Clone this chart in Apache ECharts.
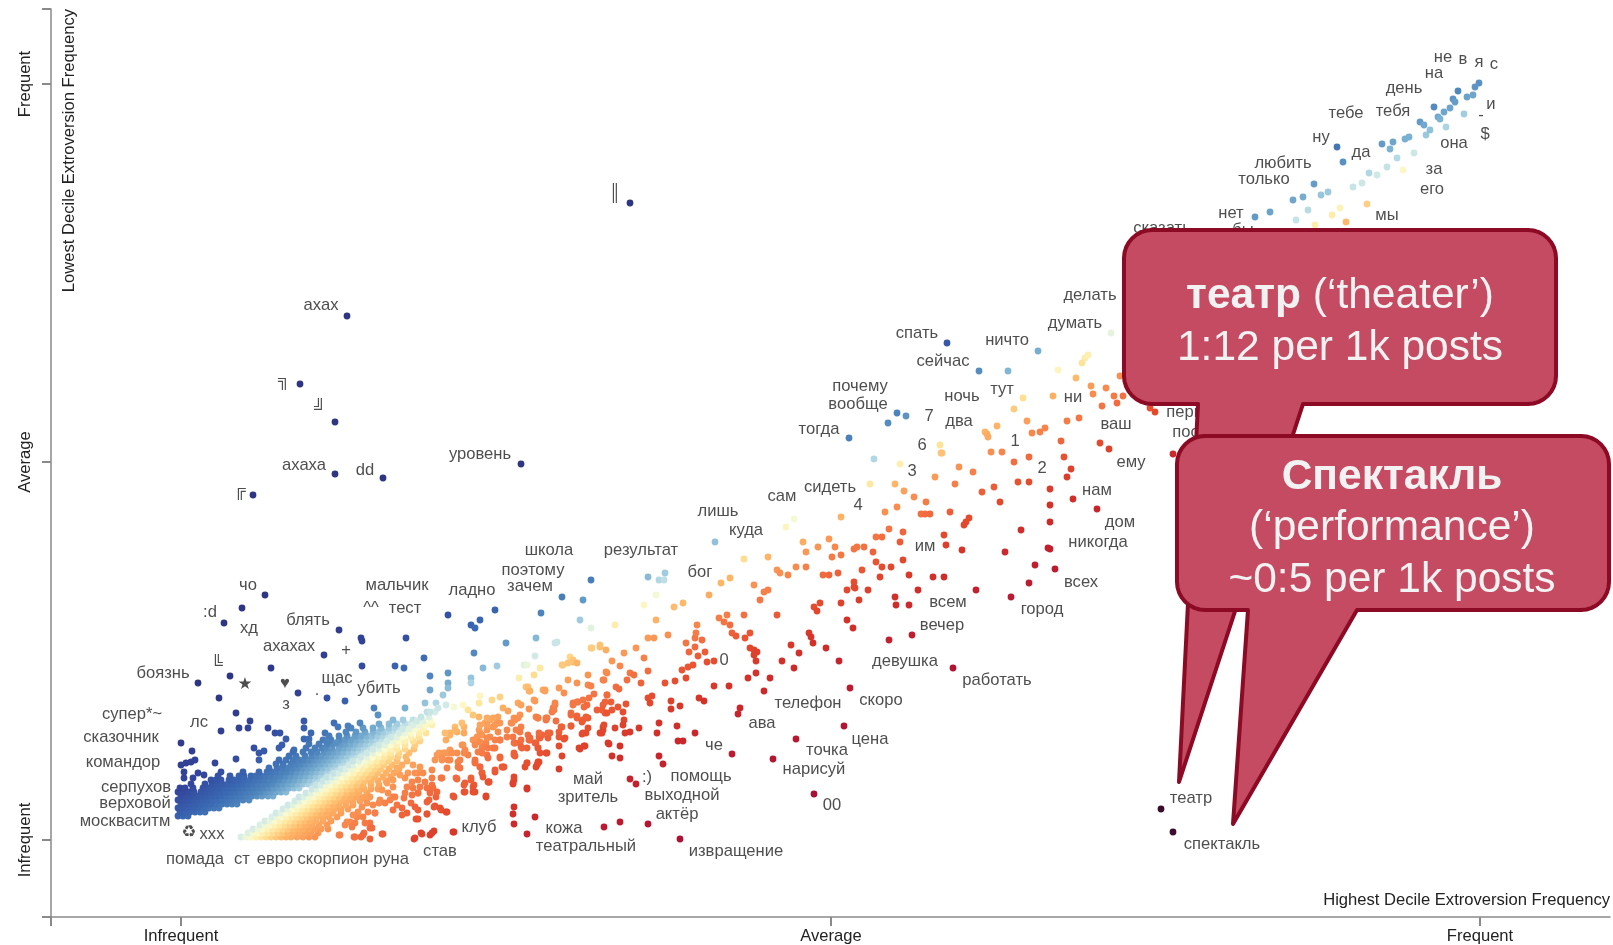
<!DOCTYPE html>
<html>
<head>
<meta charset="utf-8">
<script src="https://cdn.jsdelivr.net/npm/echarts@6/dist/echarts.min.js"></script>
<style>html,body{margin:0;padding:0;background:#fff}#c{width:1613px;height:945px}</style>
</head>
<body>
<div id="c"></div>
<script>
// Axis values are word-frequency ranks: 0 = Infrequent, mid = Average, top = Frequent.
const xTickValues = [0, 650, 1299];
const yTickValues = [0, 378, 756];
const tickLabels = ['Infrequent', 'Average', 'Frequent'];
const xAxisTitle = 'Highest Decile Extroversion Frequency';
const yAxisTitle = 'Lowest Decile Extroversion Frequency';

const outlierPoints = [449,637, 166,524, 119,456, 154,418, 154,366, 202,362, 72,345, 340,376];
const leftPoints = [84,245, 61,232, 43,217, 158,210, 180,202, 181,199, 225,202, 267,225, 290,215, 294,212, 299,220, 314,230,
  143,185, 243,182, 293,187, 17,157, 49,164, 90,172, 181,174, 214,174, 223,172, 249,164, 267,167, 290,162, 302,172, 316,174,
  117,147, 146,142, 164,139, 38,142, 55,127, 193,132, 197,125, 224,132, 249,150, 244,137, 255,137, 262,145, 267,157, 267,152,
  290,157, 249,128, 257,132, 265,135, 273,133, 282,135, 287,130, 69,119, 58,112, 67,112, 40,109, 123,119, 123,112, 130,107,
  123,101, 128,101, 87,112, 94,107, 99,107, 105,101, 153,117, 157,113, 167,114, 179,117, 144,107, 148,103, 146,98, 155,97,
  0,97, 11,89, 73,92, 83,89, 78,87, 78,80, 98,92, 101,95, 113,90, 34,77, 55,81, 40,68, 0,75, 5,77, 10,78, 14,80, 3,68, 3,62,
  12,62, 17,67, 23,65];
const midLowPoints = [201,6, 189,1, 180,3, 183,7, 173,3, 158,5, 233,1, 240,7, 249,5, 253,9, 273,8, 235,21, 246,26, 237,30, 253,33,
  260,30, 265,28, 273,43, 305,43, 283,48, 294,48, 293,55, 283,55, 260,62, 276,61, 290,60, 308,58, 251,55, 255,43, 230,37,
  223,42, 212,43, 198,37, 194,27, 176,23, 189,17, 212,30, 226,27, 248,40, 237,47, 251,70, 237,67, 258,87, 276,87, 294,80,
  301,67, 314,68, 323,73, 333,63, 332,57, 346,52, 283,87, 305,97, 319,100, 312,113, 298,110, 269,90, 333,87, 344,73, 348,100,
  358,103, 340,113, 326,110, 283,107, 265,100, 317,123, 333,122, 355,123, 365,120, 298,123, 308,120, 337,137, 362,150, 353,140,
  319,143, 298,137, 283,113, 269,107];
const clumpPoints = [256,85, 262,87, 267,87, 254,80, 261,80, 269,80, 281,95, 284,90, 287,85, 277,78, 279,72, 294,78, 299,73, 301,67,
  302,63, 314,70, 307,58, 296,100, 299,107, 306,110, 309,103, 314,100, 302,95, 312,92, 297,88, 306,85, 316,117, 309,120, 304,117,
  276,108, 269,105, 274,113, 232,75, 239,73, 227,67, 234,67, 242,67, 224,62, 231,58, 237,60, 244,58, 251,62, 226,53, 232,52, 239,53,
  246,52, 252,52, 256,48, 249,47, 237,47, 231,45, 224,47, 261,62, 275,62, 266,72, 216,72, 219,65, 212,60, 206,57, 212,53, 207,47,
  201,50, 214,43, 209,40, 199,40, 204,37, 216,35, 221,32, 221,25, 234,33, 246,38, 246,26, 237,21, 254,34, 259,32, 266,28, 272,44,
  284,57, 284,48, 292,53, 292,48, 290,62, 305,44, 308,58, 182,42, 189,43, 186,37, 192,35, 181,33, 187,28, 194,27, 177,28, 182,23,
  172,25, 169,18, 174,17, 166,18, 164,15, 171,13, 184,17, 189,12, 159,5, 174,3, 182,5, 191,12, 202,6, 234,2, 241,6, 251,7, 272,8,
  264,87, 271,87, 261,82, 267,80, 279,80, 277,73, 282,95, 284,88, 294,77, 299,73, 296,103, 301,105, 292,100, 299,98, 306,102, 294,95,
  301,92, 307,92, 314,92, 301,87, 307,82, 306,122, 312,122, 299,115, 306,115, 314,115, 319,117, 317,108, 319,100, 274,110, 264,107,
  281,117, 331,117, 337,122, 334,120, 339,125, 332,103, 339,108, 334,97, 339,97, 341,92, 347,105, 349,100, 346,92, 354,97, 361,105,
  359,102, 369,107, 367,102, 357,92, 359,87, 357,78, 356,75, 366,87, 346,77, 334,84, 319,82, 322,73, 357,122, 366,122, 375,119,
  381,113, 378,108, 390,114, 384,102, 402,107, 407,112, 422,113, 419,107, 422,110, 398,92, 404,94, 427,97, 374,137, 372,132, 371,128,
  348,131, 340,135, 327,129, 322,132, 364,150, 354,139, 348,149, 345,153, 392,137, 397,138, 402,140, 406,135, 390,127, 396,124,
  402,120, 407,122, 416,130, 422,135, 424,127, 426,145, 422,160, 426,167, 392,178, 389,183, 381,175, 411,192, 419,195, 299,144,
  311,140, 292,125];
const centerPoints = [693,381, 719,376, 760,387, 810,388, 821,388, 848,383, 833,378, 778,373, 792,368, 754,363, 774,356, 714,356,
  689,356, 723,349, 733,343, 745,338, 801,348, 813,353, 837,358, 848,358, 869,351, 869,335, 819,338, 869,318, 840,310, 867,292,
  869,291, 824,288, 854,275, 874,271, 848,257, 830,243, 795,250, 769,328, 740,326, 744,326, 749,326, 704,328, 716,333, 788,322,
  785,318, 783,315, 660,323, 613,321, 605,313, 708,311, 722,308, 763,305, 719,298, 695,303, 701,303, 765,295, 781,290, 622,298,
  648,301, 654,293, 637,293, 673,291, 676,293, 683,293, 692,288, 660,285, 651,283, 625,288, 587,283, 563,281, 534,298, 722,280,
  695,278, 701,273, 710,273, 681,270, 728,265, 752,263, 763,263, 699,263, 642,265, 648,265, 657,267, 615,273, 625,273, 596,270,
  599,267, 607,265, 573,255, 549,262, 540,257, 528,245, 583,248, 587,250, 579,240, 502,237, 493,233, 475,220, 463,235, 475,245,
  467,263, 478,260, 483,260, 484,267, 410,260, 381,243, 402,240, 360,227, 399,220, 410,212, 434,215, 673,258, 673,253, 674,252,
  666,250, 687,250, 678,240, 660,237, 714,243, 715,235, 728,235, 737,250, 639,237, 633,233, 636,229, 666,220, 672,212, 731,205,
  708,200, 772,172, 628,207, 630,203, 632,197, 610,195, 645,192, 618,187, 658,179, 601,179, 613,172, 596,225, 563,225, 538,222,
  546,225, 543,218, 549,215, 551,207, 555,204, 564,202, 569,207, 569,192, 573,190, 576,188, 573,185, 575,179, 575,167, 567,162,
  589,162, 583,149, 669,152, 663,114, 615,101, 592,81, 633,46, 551,86, 499,1, 559,132, 557,126, 518,142, 523,139, 533,154,
  548,154, 505,162, 494,159, 484,157, 501,170, 507,173, 512,175, 508,188, 517,184, 524,188, 526,178, 533,179, 505,197, 514,202,
  521,200, 514,193, 515,207, 516,215, 487,205, 467,202, 473,202, 455,192, 443,187, 463,182, 467,169, 431,179, 439,174, 449,167,
  446,160, 453,165, 460,157, 425,168, 423,160, 435,153, 438,151, 407,165, 407,155, 410,154, 387,160, 396,157, 378,152, 383,147,
  364,149, 347,153, 349,149, 413,146, 408,142, 426,145, 424,138, 396,138, 403,133, 392,135, 430,138, 437,133, 445,136, 421,130,
  426,127, 431,130, 442,128, 443,120, 442,115, 471,144, 467,142, 469,137, 490,139, 490,131, 499,134, 374,135, 373,130, 390,125,
  396,122, 405,123, 401,118, 365,122, 357,122, 423,115, 421,107, 434,112, 444,107, 449,108, 458,112, 478,117, 476,107, 496,114,
  497,99, 502,99, 514,107, 405,107, 401,106, 390,114, 380,113, 378,103, 383,101, 378,94, 381,84, 403,94, 399,91, 428,96, 439,94,
  431,84, 439,82, 478,84, 482,76, 378,71, 357,77, 355,73, 333,60, 332,56, 346,51, 449,61, 455,56, 333,33, 332,26, 333,16, 354,23,
  346,6, 423,13, 439,18, 467,16, 330,117, 335,110, 340,100, 349,102, 355,97, 358,107, 367,107, 326,103, 333,97, 340,93, 357,92,
  365,87, 346,77, 333,85, 358,78, 321,73, 319,83, 392,180, 396,177, 387,177, 382,175, 359,172, 353,165, 338,162, 343,175, 346,175,
  354,184, 355,202, 376,198, 374,197, 325,197, 410,192, 419,193, 425,190];
const rightPoints = [766,497, 798,469, 827,469, 857,489, 930,507, 904,482, 901,477, 907,485, 877,470, 895,462, 910,454, 925,452,
  912,446, 933,444, 942,444, 936,437, 921,434, 939,464, 872,444, 842,442, 833,431, 716,427, 725,424, 707,417, 668,402, 759,395,
  761,387, 804,408, 806,406, 807,403, 816,414, 846,419, 851,407, 859,408, 864,412, 886,419, 898,422, 880,399, 919,397, 928,391,
  883,383, 890,371, 886,363, 892,341, 916,331, 974,428, 969,432, 992,386];
const topPoints = [1298,757, 1294,753, 1286,743, 1277,749, 1292,745, 1272,741, 1274,738, 1253,733, 1269,732, 1263,728, 1257,723,
  1259,721, 1283,726, 1239,718, 1243,715, 1265,713, 1245,705, 1249,710, 1228,703, 1224,701, 1212,698, 1201,696, 1209,691, 1156,693,
  1162,678, 1233,687, 1216,682, 1206,673, 1196,665, 1188,667, 1181,657, 1172,653, 1222,670, 1133,656, 1122,643, 1112,640, 1147,648,
  1140,645, 1089,628, 1074,623, 1127,630, 1115,620, 1151,625, 1159,632, 1186,636, 1165,618, 1134,615];
const theaterPoints = [980,31, 992,8];

// The dense band near the origin, too crowded to read dot by dot: one row per y, x values estimated along it.
const denseUpperRows = [
 [24,[-3,2,7]],
 [28,[-1,4,9,14,19,24]],
 [32,[-3,2,7,12,17,23,28,33,38]],
 [36,[0,5,10,15,20,25,30,36,41,46,51,56]],
 [40,[-3,2,7,12,17,22,27,32,37,42,47,52,57,62,68]],
 [44,[0,5,10,16,21,26,31,36,41,46,51,56,61,66,71,76,81,87,92]],
 [48,[-3,2,8,13,20,25,30,35,40,45,50,55,60,65,70,75,80,85,90,95,100,105]],
 [52,[-1,4,12,22,27,33,38,44,48,53,58,63,68,73,78,83,88,93,98,103,108,113,118]],
 [56,[10,24,31,36,41,47,52,57,62,67,72,77,82,87,92,97,102,107,112,117,122,127,132]],
 [60,[30,35,40,48,53,58,63,69,74,79,84,89,94,99,104,109,114,119,124,129,134,138]],
 [64,[37,49,58,63,70,75,80,85,90,95,100,105,110,115,120,125,130,135,140,145]],
 [68,[62,78,86,91,96,101,106,111,116,121,126,131,136,141,146,151]],
 [72,[88,96,102,107,112,117,122,127,132,137,142,147,152,157]],
 [76,[95,102,110,115,120,125,130,135,140,145,150,155,160,165]],
 [80,[98,105,112,118,123,128,133,138,143,148,153,158,163,168,173]],
 [84,[108,115,124,131,136,141,146,151,156,161,166,171,176,181]],
 [88,[112,122,130,136,143,148,153,158,163,168,173,178,183,188]],
 [92,[125,134,141,146,151,158,163,168,173,178,183,188,193]],
 [96,[128,138,146,152,160,165,170,175,180,185,190,195,200]],
 [100,[142,150,158,164,170,176,181,186,191,196,201,206]],
 [104,[148,158,166,174,180,186,191,197,202,207,212]],
 [108,[165,175,184,192,198,203,208,214,219]],
 [112,[170,182,192,200,208,214,220,225]],
 [116,[198,208,216,224,230,236]],
 [120,[212,222,232,240]]
];
const denseLowerRows = [
 [3,[60,65,70,75,80,85,90,95,100,105,110,116,122,128,134]],
 [7,[67,72,77,82,87,92,97,102,107,112,118,124,130,137]],
 [11,[72,77,82,87,92,97,102,107,112,117,122,128,134,140,147]],
 [15,[79,84,89,94,99,104,109,114,119,125,131,138,146]],
 [19,[84,89,94,99,104,109,114,119,124,129,135,142,150]],
 [23,[91,96,101,106,111,116,121,126,131,136,142,148,156]],
 [27,[95,100,105,110,115,120,125,130,135,140,146,152,160]],
 [31,[102,107,112,117,122,127,132,137,142,148,154,160,167]],
 [35,[107,112,117,122,127,132,137,142,147,152,158,165,172]],
 [39,[114,119,124,129,134,139,144,149,154,160,166,172,179]],
 [43,[118,123,128,133,138,143,148,153,158,164,170,176,184]],
 [47,[125,130,135,140,145,150,155,160,166,172,178,186]],
 [51,[131,136,141,146,151,156,161,166,171,177,183,190,197]],
 [55,[135,140,145,150,155,160,165,170,176,182,190,198]],
 [59,[142,147,152,157,162,167,172,178,184,190,197,205]],
 [63,[146,151,156,161,166,171,176,182,188,194,202,210]],
 [67,[153,158,163,168,173,179,185,191,197,205,213]],
 [71,[160,165,170,176,182,188,194,200,208,218]],
 [75,[168,173,178,185,191,197,203,211,221]],
 [79,[172,178,184,190,196,202,208,216,226]],
 [83,[180,186,192,198,204,210,217,225]],
 [87,[186,192,198,204,210,218,228]],
 [91,[192,198,204,210,216,224,233]],
 [95,[198,204,210,216,224,234]],
 [99,[206,212,218,224,232,239]],
 [103,[210,216,222,230,238]],
 [107,[218,224,230,238,245]],
 [111,[222,228,234,242]],
 [115,[232,238,245,251]],
 [119,[236,242,250]],
 [123,[240,248]],
 [128,[246,254]]
];

// Word labels: word, x, y (where the word is centred).
const wordLabels = [
 ['не',1262,783],['в',1282,781],['я',1298,778],['с',1313,776],['на',1253,767],['день',1223,752],['и',1310,736],['тебе',1165,727],
 ['тебя',1212,729],['-',1300,725],['$',1304,706],['ну',1140,703],['да',1180,688],['она',1273,697],['любить',1102,677],['только',1083,661],
 ['за',1253,671],['его',1251,651],['нет',1050,627],['мы',1206,625],['сказать',981,612],['бы',1062,610],['делать',909,545],['думать',894,517],
 ['спать',736,507],['ничто',826,500],['сейчас',762,479],['тут',821,451],['почему',679,454],['вообще',677,436],['ночь',781,444],['7',748,424],
 ['два',778,419],['ни',892,443],['ваш',935,416],['тогда',638,411],['6',741,395],['1',834,399],['3',731,369],['2',861,372],['ему',950,378],
 ['первый',1014,428],['после',1014,408],['сидеть',649,353],['сам',601,344],['4',677,335],['нам',916,350],['лишь',537,329],['дом',939,318],
 ['куда',565,310],['им',744,294],['никогда',917,298],['школа',368,290],['результат',460,290],['поэтому',352,270],['бог',519,268],['зачем',349,254],
 ['всех',900,258],['чо',67,255],['мальчик',216,255],['ладно',291,250],['^^',190,232],['тест',224,232],['всем',767,238],['город',861,231],
 [':d',29,228],['блять',127,220],['хд',68,212],['вечер',761,215],['ахахах',108,194],['+',165,190],['0',543,180],['девушка',724,179],
 ['боязнь',-18,167],['║',434,647],['╗',103,460],['╝',139,432],['╔',59,350],['╚',36,176],['ахах',140,535],['ахаха',123,375],['dd',184,370],
 ['уровень',299,386],['★',64,156],['♥',104,157],['щас',156,162],['убить',198,152],['з',105,136],['·',136,146],['работать',816,160],['скоро',700,140],
 ['телефон',627,137],['супер*~',-49,126],['лс',18,118],['ава',581,117],['сказочник',-60,103],['цена',689,101],['че',533,95],['точка',646,90],
 ['командор',-58,78],['нарисуй',633,71],[':)',466,63],['помощь',520,64],['май',407,61],['серпухов',-45,53],['зритель',407,43],['выходной',501,45],
 ['верховой',-46,37],['00',651,35],['актёр',496,26],['театр',1010,42],['москваситм',-56,19],['кожа',383,12],['клуб',298,13],['♻',8,8],['xxx',31,6],
 ['извращение',555,-11],['театральный',405,-6],['спектакль',1041,-4],['став',259,-11],['помада',14,-19],['ст',61,-19],['евро',94,-19],
 ['скорпион',152,-19],['руна',210,-19]
];

function pairs(flat) { const o = []; for (let i = 0; i < flat.length; i += 2) o.push([flat[i], flat[i + 1]]); return o; }
function rows(list) { const o = []; list.forEach(r => r[1].forEach(x => o.push([x, r[0]]))); return o; }

const points = [].concat(rows(denseUpperRows), rows(denseLowerRows), pairs(midLowPoints), pairs(clumpPoints), pairs(leftPoints),
  pairs(centerPoints), pairs(rightPoints), pairs(topPoints), pairs(outlierPoints), pairs(theaterPoints));

// Colour: distance of a point above or below the neutral diagonal, through a RdYlBu-like ramp.
const neutralLine = [[60,-2],[126,40],[230,108],[613,320],[1222,672],[1300,718]];
function neutral(x) {
  const n = neutralLine;
  if (x <= n[0][0]) return n[0][1] + (x - n[0][0]) * 0.6;
  for (let i = 1; i < n.length; i++) if (x <= n[i][0])
    return n[i-1][1] + (x - n[i-1][0]) * (n[i][1] - n[i-1][1]) / (n[i][0] - n[i-1][0]);
  return n[n.length-1][1];
}
const ramp = [[-500,'#3d0c2c'],[-350,'#9c0b38'],[-250,'#ae1234'],[-180,'#c11f2e'],[-130,'#d43229'],[-95,'#e74e2f'],[-70,'#f26c3f'],[-45,'#f98f50'],
  [-22,'#fdb668'],[-9,'#fee59a'],[0,'#fbfbd0'],[6,'#d8eee6'],[15,'#afd6e4'],[28,'#78aed0'],[45,'#4f86bd'],[70,'#3a68b2'],[110,'#33459b'],[200,'#2e3582']];
function hex(c) { return [1,3,5].map(i => parseInt(c.substr(i,2),16)); }
function colorOf(x, y) {
  let d = y - neutral(x);
  if (d > 0 && x < 230) d *= 1 + (230 - Math.max(x, 0)) / 1000;
  if (d <= ramp[0][0]) return ramp[0][1];
  for (let i = 1; i < ramp.length; i++) if (d <= ramp[i][0]) {
    const t = (d - ramp[i-1][0]) / (ramp[i][0] - ramp[i-1][0]);
    const a = hex(ramp[i-1][1]), b = hex(ramp[i][1]);
    return 'rgb(' + a.map((v, k) => Math.round(v + (b[k] - v) * t)).join(',') + ')';
  }
  return ramp[ramp.length-1][1];
}

// Speech-bubble outline: rounded box with a pointed tail leaving its bottom edge.
function bubble(x0, y0, x1, y1, r, tailRight, tip, tailLeft) {
  const arc = (cx, cy, from) => { const o = []; for (let i = 0; i <= 8; i++) { const a = from + i * Math.PI / 16; o.push([cx + r * Math.cos(a), cy + r * Math.sin(a)]); } return o; };
  return [].concat(arc(x1 - r, y0 + r, -Math.PI / 2), arc(x1 - r, y1 - r, 0), [[tailRight, y1], tip, [tailLeft, y1]],
    arc(x0 + r, y1 - r, Math.PI / 2), arc(x0 + r, y0 + r, Math.PI));
}

const axisGray = '#8a8a8a', textColor = '#222222', font = '"Liberation Sans", "DejaVu Sans", sans-serif', textSize = 16.6, bubbleSize = 42.5;
const bubbleStyle = { fill: '#c44b62', stroke: '#8c0a24', lineWidth: 4, lineJoin: 'round' };
const bubbleText = { fill: '#f2f2f2', fontSize: bubbleSize, fontFamily: font, align: 'center', verticalAlign: 'middle' };

const option = {
  animation: false,
  backgroundColor: '#ffffff',
  grid: { left: 51, top: 9, width: 1559, height: 908, containLabel: false, outerBoundsMode: 'none' },
  xAxis: {
    type: 'value', min: -130, max: 1429, splitLine: { show: false },
    name: xAxisTitle, nameLocation: 'end', nameGap: 0, nameMoveOverlap: false,
    nameTextStyle: { color: textColor, fontSize: textSize, fontFamily: font, align: 'right', verticalAlign: 'bottom', padding: [0, 0, 8, 0] },
    axisLine: { onZero: false, lineStyle: { color: axisGray, width: 1.5 } },
    axisTick: { length: 9, customValues: [-130].concat(xTickValues), lineStyle: { color: axisGray, width: 2 } },
    axisLabel: { customValues: xTickValues, formatter: v => tickLabels[xTickValues.indexOf(v)], color: textColor, fontSize: textSize, fontFamily: font, margin: 11 }
  },
  yAxis: {
    type: 'value', min: -77, max: 831, splitLine: { show: false },
    name: yAxisTitle, nameLocation: 'end', nameGap: 0, nameRotate: 90, nameMoveOverlap: false,
    nameTextStyle: { color: textColor, fontSize: textSize, fontFamily: font, align: 'right', verticalAlign: 'top', padding: [10, 0, 0, 0] },
    axisLine: { onZero: false, lineStyle: { color: axisGray, width: 1.5 } },
    axisTick: { length: 9, customValues: [-77].concat(yTickValues, [831]), lineStyle: { color: axisGray, width: 2 } },
    axisLabel: { customValues: yTickValues, rotate: 90, formatter: v => tickLabels[yTickValues.indexOf(v)], color: textColor, fontSize: textSize, fontFamily: font, margin: 17 }
  },
  series: [
    { type: 'scatter', silent: true, symbolSize: 6.8, data: points, progressive: 0, z: 2,
      itemStyle: { opacity: 1, color: p => colorOf(p.data[0], p.data[1]) } },
    { type: 'scatter', silent: true, symbolSize: 1, z: 3, progressive: 0,
      data: wordLabels.map(w => [w[1], w[2], w[0]]),
      encode: { x: 0, y: 1 },
      itemStyle: { color: 'rgba(0,0,0,0)' },
      label: { show: true, position: 'inside', formatter: p => p.data[2], color: textColor, fontSize: textSize, fontFamily: font } }
  ],
  graphic: { elements: [
    { type: 'polygon', z: 100, shape: { points: bubble(1124, 230, 1556, 404, 28, 1303, [1179, 782], 1198) }, style: bubbleStyle },
    { type: 'polygon', z: 101, shape: { points: bubble(1177, 436, 1609, 610, 28, 1357, [1233, 824], 1248) }, style: bubbleStyle },
    { type: 'text', z: 102, x: 1340, y: 296, style: Object.assign({}, bubbleText, { text: '{b|театр} (‘theater’)', rich: { b: { fontWeight: 'bold', fontSize: bubbleSize, fill: '#f2f2f2', fontFamily: font } } }) },
    { type: 'text', z: 102, x: 1340, y: 348, style: Object.assign({}, bubbleText, { text: '1:12 per 1k posts' }) },
    { type: 'text', z: 102, x: 1392, y: 477, style: Object.assign({}, bubbleText, { text: 'Спектакль', fontWeight: 'bold' }) },
    { type: 'text', z: 102, x: 1392, y: 528, style: Object.assign({}, bubbleText, { text: '(‘performance’)' }) },
    { type: 'text', z: 102, x: 1392, y: 580, style: Object.assign({}, bubbleText, { text: '~0:5 per 1k posts' }) }
  ] }
};
const chart = echarts.init(document.getElementById('c'), null, { renderer: 'canvas' });
chart.setOption(option);
</script>
</body>
</html>
